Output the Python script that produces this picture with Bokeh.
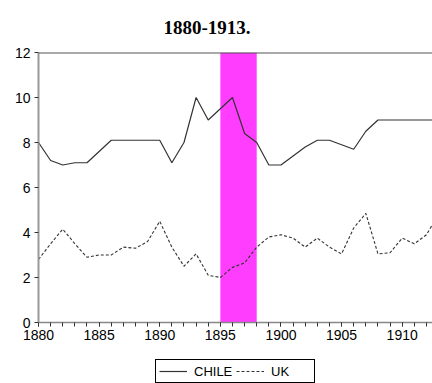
from bokeh.plotting import figure
from bokeh.layouts import column
from bokeh.models import (Range1d, SingleIntervalTicker, BoxAnnotation, Span,
                          Legend, LegendItem)
from bokeh.embed import file_html
from bokeh.resources import INLINE

years = list(range(1880, 1914))
chile = [8.0, 7.2, 7.0, 7.1, 7.1, 7.6, 8.1, 8.1, 8.1, 8.1,
         8.1, 7.1, 8.0, 10.0, 9.0, 9.5, 10.0, 8.4, 8.0, 7.0,
         7.0, 7.4, 7.8, 8.1, 8.1, 7.9, 7.7, 8.5, 9.0, 9.0,
         9.0, 9.0, 9.0, 9.0]
uk = [2.8, 3.5, 4.15, 3.5, 2.9, 3.0, 3.0, 3.35, 3.3, 3.6,
      4.5, 3.35, 2.5, 3.05, 2.1, 2.0, 2.45, 2.65, 3.35, 3.8,
      3.9, 3.75, 3.35, 3.75, 3.35, 3.05, 4.2, 4.85, 3.05, 3.1,
      3.75, 3.5, 3.9, 4.8]
band_start = 1895
band_end = 1898
title_text = "1880-1913."
series_names = ["CHILE", "UK"]

LINE_COLOR = "#333333"

p = figure(width=432, height=342, output_backend="svg", toolbar_location=None,
           x_range=Range1d(1880, 1912.5), y_range=Range1d(0, 12),
           min_border_left=38, min_border_right=0, min_border_top=0,
           min_border_bottom=0)
p.outline_line_color = None
p.xgrid.grid_line_color = None
p.ygrid.grid_line_color = None
p.background_fill_color = "white"
p.border_fill_color = "white"

p.title.text = title_text
p.title.text_font = "Liberation Serif"
p.title.text_font_style = "bold"
p.title.text_font_size = "19px"
p.title.text_color = "black"
p.title.align = "left"
p.title.offset = 125
p.title.standoff = 37

band = BoxAnnotation(left=band_start, right=band_end, fill_color="#FF3DFF",
                     fill_alpha=1.0, line_color=None, level="underlay")
p.add_layout(band)

top = Span(location=12, dimension="width", line_color="#555555", line_width=2)
p.add_layout(top)

p.line(years, chile, line_color=LINE_COLOR, line_width=1.2)
p.line(years, uk, line_color=LINE_COLOR, line_width=1.1, line_dash="3 2")

# axes
p.xaxis.ticker = SingleIntervalTicker(interval=5, num_minor_ticks=5)
p.yaxis.ticker = SingleIntervalTicker(interval=2, num_minor_ticks=0)
for ax in (p.xaxis[0], p.yaxis[0]):
    ax.major_label_text_font = "Liberation Sans"
    ax.major_label_text_font_size = "14px"
    ax.major_label_text_color = "black"
    ax.major_tick_in = 0
    ax.major_tick_out = 4
    ax.minor_tick_in = 0
    ax.minor_tick_out = 4
    ax.major_tick_line_color = "#333333"
    ax.minor_tick_line_color = "#333333"
    ax.major_label_standoff = 3
p.yaxis.major_label_standoff = 4
p.yaxis.axis_line_color = "#999999"
p.yaxis.axis_line_width = 2
p.xaxis.axis_line_color = "#888888"
p.xaxis.axis_line_width = 1.5

# legend strip below the chart (lines use the real series, kept off-view)
lg = figure(width=432, height=41, output_backend="svg", toolbar_location=None,
            x_range=Range1d(0, 1), y_range=Range1d(0, 1),
            x_axis_location=None, y_axis_location=None,
            min_border_left=0, min_border_right=0, min_border_top=0,
            min_border_bottom=0)
lg.outline_line_color = None
lg.grid.visible = False
lr1 = lg.line(years, chile, line_color=LINE_COLOR, line_width=1.2)
lr2 = lg.line(years, uk, line_color=LINE_COLOR, line_width=1.1, line_dash="3 2")

legend = Legend(items=[LegendItem(label=series_names[0], renderers=[lr1]),
                       LegendItem(label=series_names[1], renderers=[lr2])],
                orientation="horizontal", location=(117, 0))
legend.label_text_font = "Liberation Sans"
legend.label_text_font_size = "13px"
legend.label_text_color = "black"
legend.border_line_color = "black"
legend.border_line_width = 1
legend.border_line_alpha = 1.0
legend.padding = 3
legend.margin = 0
legend.spacing = 2
legend.glyph_width = 28
legend.glyph_height = 16
legend.label_standoff = 7
legend.label_width = 40
legend.label_height = 16
legend.background_fill_alpha = 1.0
lg.add_layout(legend, "center")

layout = column(p, lg, spacing=0)
open("out.html", "w").write(file_html(layout, INLINE))
